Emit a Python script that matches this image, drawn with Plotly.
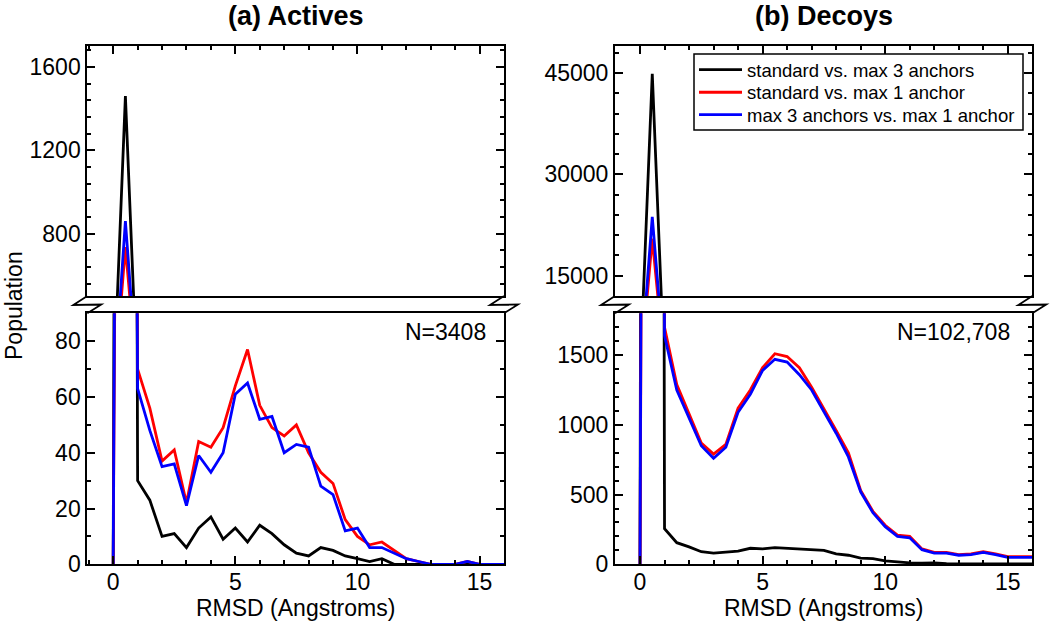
import plotly.graph_objects as go

# ---------------- data ----------------
rmsd = [0, 0.5, 1, 1.5, 2, 2.5, 3, 3.5, 4, 4.5, 5, 5.5, 6, 6.5, 7, 7.5, 8,
        8.5, 9, 9.5, 10, 10.5, 11, 11.5, 12, 12.5, 13, 13.5, 14, 14.5, 15, 15.5, 16]

series_names = ["standard vs. max 3 anchors",
                "standard vs. max 1 anchor",
                "max 3 anchors vs. max 1 anchor"]
series_colors = ["#000000", "#ff0000", "#0000ff"]

actives_std_vs_max3 = [0, 1460, 30, 23, 10, 11, 6, 13, 17, 9, 13, 8, 14, 11, 7, 4, 3,
                       6, 5, 3, 2, 1, 2, 0, 0, 0, 0, 0, 0, 0, 0, 0, 0]
actives_std_vs_max1 = [0, 735, 70, 56, 37, 41, 22, 44, 42, 49, 64, 77, 57, 49, 46, 50, 40,
                       33, 29, 16, 10, 7, 8, 5, 2, 1, 0, 0, 0, 1, 0, 0, 0]
actives_max3_vs_max1 = [0, 860, 63, 48, 35, 36, 21, 39, 33, 40, 61, 65, 52, 53, 40, 43, 42,
                        28, 25, 12, 13, 6, 6, 4, 2, 1, 0, 0, 0, 1, 0, 0, 0]

decoys_std_vs_max3 = [0, 44900, 255, 155, 125, 90, 80, 90, 95, 115, 110, 120, 115, 115, 105, 100, 75,
                      65, 45, 40, 25, 15, 10, 8, 10, 5, 3, 2, 2, 2, 2, 2, 2]
decoys_std_vs_max1 = [0, 20500, 1700, 1290, 1080, 870, 790, 860, 1120, 1250, 1410, 1510, 1490, 1410, 1270, 1120, 960,
                      800, 530, 380, 280, 210, 200, 110, 85, 85, 70, 75, 90, 75, 55, 55, 55]
decoys_max3_vs_max1 = [0, 23700, 1640, 1250, 1050, 850, 760, 840, 1090, 1220, 1390, 1470, 1450, 1360, 1250, 1100, 940,
                       770, 520, 370, 270, 200, 190, 105, 80, 80, 65, 70, 85, 70, 50, 50, 50]

panel_titles = ["(a) Actives", "(b) Decoys"]
panel_counts = ["N=3408", "N=102,708"]
x_title = "RMSD (Angstroms)"
y_title = "Population"

# ---------------- layout geometry ----------------
W, H = 1050, 623          # reference picture size (positions measured on it)
FIG_H = 636               # page height that is photographed and fitted to 623
FONT = "Liberation Sans, Arial, Helvetica, sans-serif"


def px(p):
    return p / W


def py(p):
    return 1 - p / H


XA = [px(87.3), px(504)]
XB = [px(615), px(1032.3)]
YT = [py(296), py(46)]
YB = [py(564.3), py(313.3)]

fig = go.Figure()

actives = [actives_std_vs_max3, actives_std_vs_max1, actives_max3_vs_max1]
decoys = [decoys_std_vs_max3, decoys_std_vs_max1, decoys_max3_vs_max1]
legend_ids = ["legend", "legend2", "legend3"]

# axis pairs: (x, y) -> a bottom, a top, b bottom, b top
panels = [("x", "y", actives, False), ("x2", "y2", actives, False),
          ("x3", "y3", decoys, False), ("x4", "y4", decoys, True)]
for xa, ya, data, show in panels:
    for name, color, vals, lg in zip(series_names, series_colors, data, legend_ids):
        fig.add_trace(go.Scatter(
            x=rmsd, y=vals, mode="lines", name=name,
            line=dict(color=color, width=2.8),
            xaxis=xa, yaxis=ya, showlegend=show, legend=lg,
            hoverinfo="skip"))

tickfont = dict(family=FONT, size=23, color="black")


def xaxis_cfg(domain, anchor, rng, top):
    return dict(domain=domain, anchor=anchor, range=rng,
                showline=True, linecolor="black", linewidth=2, mirror=True,
                ticks="inside", ticklen=8, tickwidth=1.5, tickcolor="black",
                dtick=5, tick0=0, showgrid=False, zeroline=False,
                side="top" if top else "bottom",
                showticklabels=not top, tickfont=tickfont,
                ticklabelstandoff=-4,
                minor=dict(dtick=1, tick0=0, ticks="inside", ticklen=4,
                           tickwidth=1.5, tickcolor="black", showgrid=False))


def yaxis_cfg(domain, anchor, rng, dtick, mdtick):
    return dict(domain=domain, anchor=anchor, range=rng,
                showline=True, linecolor="black", linewidth=2, mirror="ticks",
                ticks="inside", ticklen=8, tickwidth=1.5, tickcolor="black",
                dtick=dtick, tick0=0, showgrid=False, zeroline=False,
                tickfont=tickfont, tickformat="d",
                minor=dict(dtick=mdtick, tick0=0, ticks="inside", ticklen=4,
                           tickwidth=1.5, tickcolor="black", showgrid=False))


def legend_cfg(row_center):
    return dict(x=px(694), y=py(row_center), xanchor="left", yanchor="middle",
                bgcolor="rgba(0,0,0,0)", borderwidth=0,
                font=dict(family=FONT, size=18.5, color="black"),
                itemwidth=43)


fig.update_layout(
    width=W, height=FIG_H,
    margin=dict(l=0, r=0, t=0, b=0, pad=0),
    paper_bgcolor="white", plot_bgcolor="white",
    font=dict(family=FONT, color="black"),
    xaxis=xaxis_cfg(XA, "y", [-1.06, 16], False),
    yaxis=yaxis_cfg(YB, "x", [0, 90], 20, 10),
    xaxis2=xaxis_cfg(XA, "y2", [-1.06, 16], True),
    yaxis2=yaxis_cfg(YT, "x2", [500, 1700], 400, 80),
    xaxis3=xaxis_cfg(XB, "y3", [-1.02, 16], False),
    yaxis3=yaxis_cfg(YB, "x3", [0, 1800], 500, 100),
    xaxis4=xaxis_cfg(XB, "y4", [-1.02, 16], True),
    yaxis4=yaxis_cfg(YT, "x4", [12000, 49000], 15000, 3000),
    showlegend=True,
    legend=legend_cfg(70),
    legend2=legend_cfg(92.7),
    legend3=legend_cfg(115),
)

# titles and labels
annotations = []
for title, dom in zip(panel_titles, [XA, XB]):
    annotations.append(dict(text="<b>%s</b>" % title, x=(dom[0] + dom[1]) / 2, y=py(16),
                            xref="paper", yref="paper", showarrow=False,
                            xanchor="center", yanchor="middle",
                            font=dict(family=FONT, size=27, color="black")))
    annotations.append(dict(text=x_title, x=(dom[0] + dom[1]) / 2, y=py(608),
                            xref="paper", yref="paper", showarrow=False,
                            xanchor="center", yanchor="middle",
                            font=dict(family=FONT, size=23, color="black")))
for label, xr in zip(panel_counts, [px(488), px(1012)]):
    annotations.append(dict(text=label, x=xr, y=py(332), xref="paper", yref="paper",
                            showarrow=False, xanchor="right", yanchor="middle",
                            font=dict(family=FONT, size=23, color="black")))
annotations.append(dict(text=y_title, x=px(14), y=py(306), xref="paper", yref="paper",
                        showarrow=False, textangle=-90, xanchor="center", yanchor="middle",
                        font=dict(family=FONT, size=23, color="black")))
fig.update_layout(annotations=annotations)

# legend frame and axis-break marks (Z shapes at each plot edge)
shapes = [dict(type="rect", xref="paper", yref="paper",
               x0=px(694), x1=px(1023), y0=py(130), y1=py(54),
               line=dict(color="black", width=1.5), fillcolor="white", layer="above")]
for edge in [87.3, 504, 615, 1032.3]:
    pts = [(edge, 296), (edge - 14, 305), (edge + 14, 304.5), (edge, 313.3)]
    path = "M %f,%f" % (px(pts[0][0]), py(pts[0][1]))
    for p in pts[1:]:
        path += " L %f,%f" % (px(p[0]), py(p[1]))
    shapes.append(dict(type="path", path=path, xref="paper", yref="paper",
                       line=dict(color="black", width=1.8)))
fig.update_layout(shapes=shapes)

fig.write_html("out.html", config={"displayModeBar": False},
               post_script="document.body.style.margin='0';document.body.style.overflow='hidden';")
